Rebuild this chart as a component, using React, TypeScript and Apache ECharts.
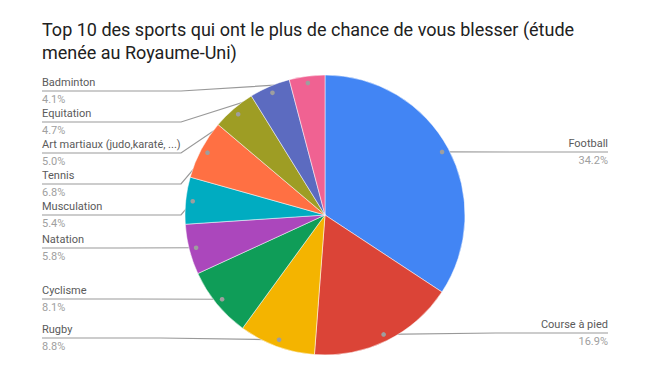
import React, { useEffect, useRef } from 'react';
import * as echarts from 'echarts';

const titleText = 'Top 10 des sports qui ont le plus de chance de vous blesser (étude\nmenée au Royaume-Uni)';
const categories = [
  'Football',
  'Course à pied',
  'Rugby',
  'Cyclisme',
  'Natation',
  'Musculation',
  'Tennis',
  'Art martiaux (judo,karaté, ...)',
  'Equitation',
  'Badminton',
];
const values = [34.2, 16.9, 8.8, 8.1, 5.8, 5.4, 6.8, 5.0, 4.7, 4.1];

// styling / layout (not data)
const sliceColors = ['#4285F4', '#DB4437', '#F4B400', '#0F9D58', '#AB47BC', '#00ACC1', '#FF7043', '#9E9D24', '#5C6BC0', '#F06292'];
const labelLineY = [152, 333, 338, 299, 248, 215, 184, 153, 122, 91];
const labelOnRight = [true, true, false, false, false, false, false, false, false, false];
const CX = 325;
const CY = 215;
const R = 140;
const LEFT_X = 42;
const RIGHT_X = 608;
const ELBOW_X = 181;

function dotPos(i: number): [number, number] {
  const total = values.reduce((a, b) => a + b, 0);
  let cum = 0;
  for (let k = 0; k < i; k++) cum += values[k];
  const mid = ((cum + values[i] / 2) / total) * Math.PI * 2;
  const r = R * 0.95;
  return [CX + r * Math.sin(mid), CY - r * Math.cos(mid)];
}

export default function App() {
  const ref = useRef<HTMLDivElement>(null);
  useEffect(() => {
    if (!ref.current) return;
    const chart = echarts.init(ref.current, null, { renderer: 'svg' });
    const dots = categories.map((_, i) => {
      const [x, y] = dotPos(i);
      return {
        type: 'circle',
        z: 100,
        shape: { cx: x, cy: y, r: 2.3 },
        style: { fill: '#9e9e9e' },
      };
    });
    chart.setOption({
      animation: false,
      backgroundColor: '#ffffff',
      title: {
        text: titleText,
        left: 37,
        top: 13,
        textStyle: {
          fontFamily: 'Roboto',
          fontSize: 18,
          fontWeight: 'normal',
          color: '#212121',
          lineHeight: 23,
        },
      },
      graphic: dots,
      series: [
        {
          type: 'pie',
          center: [CX, CY],
          radius: R,
          startAngle: 90,
          clockwise: true,
          avoidLabelOverlap: false,
          itemStyle: { borderColor: '#ffffff', borderWidth: 0.5 },
          label: {
            show: true,
            position: 'outside',
            fontFamily: 'Roboto',
            formatter: (p: any) => `{n|${p.name}}\n{p|${Number(p.value).toFixed(1)}%}`,
            rich: {
              n: { fontFamily: 'Roboto', fontSize: 11, color: '#5a5a5a', lineHeight: 17 },
              p: { fontFamily: 'Roboto', fontSize: 11, color: '#a0a0a0', lineHeight: 17 },
            },
          },
          labelLine: {
            show: true,
            lineStyle: { color: '#999999', width: 1.2 },
          },
          labelLayout: (p: any) => {
            const i = p.dataIndex;
            const y = labelLineY[i];
            const [dx, dy] = dotPos(i);
            const right = labelOnRight[i];
            const endX = right ? RIGHT_X : LEFT_X;
            let pts;
            if (right || Math.abs(dy - y) < 4) {
              pts = [[dx, dy], [(dx + endX) / 2, y], [endX, y]];
            } else {
              pts = [[dx, dy], [ELBOW_X, y], [endX, y]];
            }
            return {
              x: endX,
              y: y,
              align: right ? 'right' : 'left',
              verticalAlign: 'middle',
              labelLinePoints: pts,
            };
          },
          data: categories.map((name, i) => ({
            name,
            value: values[i],
            itemStyle: { color: sliceColors[i] },
          })),
        },
      ],
    });
    return () => chart.dispose();
  }, []);
  return <div ref={ref} style={{ position: 'absolute', left: 0, top: 0, width: 649, height: 379 }} />;
}
